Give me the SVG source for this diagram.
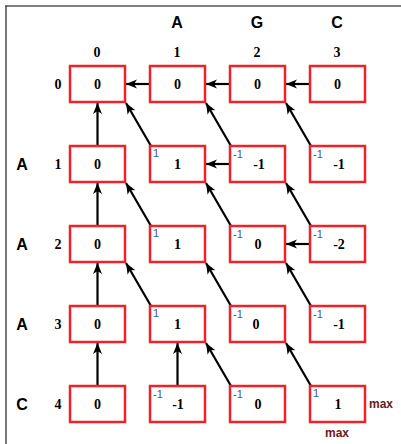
<svg xmlns="http://www.w3.org/2000/svg" width="401" height="444" viewBox="0 0 401 444">
<defs>
<marker id="ah" markerWidth="12" markerHeight="10" refX="11" refY="4.5" orient="auto" markerUnits="userSpaceOnUse">
<path d="M0,0 L11,4.5 L0,9 L3,4.5 z" fill="#000"/>
</marker>
<style>
.cell{fill:#fff;stroke:#ee2228;stroke-width:2.5}
.v{font-family:"Liberation Serif",serif;font-weight:bold;font-size:14px;text-anchor:middle;fill:#000}
.idx{font-family:"Liberation Serif",serif;font-weight:bold;font-size:14px;text-anchor:middle;fill:#000}
.let{font-family:"Liberation Sans",sans-serif;font-weight:bold;font-size:16px;text-anchor:middle;fill:#000}
.s{font-family:"Liberation Sans",sans-serif;font-size:11px;fill:#3a55b0}
.mx{font-family:"Liberation Sans",sans-serif;font-weight:bold;font-size:12px;fill:#6b1a1a}
.a{stroke:#000;stroke-width:2.2;fill:none;marker-end:url(#ah)}
</style>
</defs>
<rect width="401" height="444" fill="#fff"/>
<line x1="5" y1="6" x2="401" y2="6" stroke="#555" stroke-width="1.5"/>
<line x1="6" y1="6" x2="6" y2="444" stroke="#222" stroke-width="1.2"/>
<g id="headers">
<text class="let" x="177" y="28">A</text>
<text class="let" x="257" y="28">G</text>
<text class="let" x="337" y="28">C</text>
<text class="idx" x="97" y="57">0</text>
<text class="idx" x="177" y="57">1</text>
<text class="idx" x="257" y="57">2</text>
<text class="idx" x="337" y="57">3</text>
<text class="idx" x="58" y="89">0</text>
<text class="idx" x="58" y="169">1</text>
<text class="idx" x="58" y="249">2</text>
<text class="idx" x="58" y="329">3</text>
<text class="idx" x="58" y="409">4</text>
<text class="let" x="22" y="170">A</text>
<text class="let" x="22" y="250">A</text>
<text class="let" x="22" y="330">A</text>
<text class="let" x="22" y="410">C</text>
</g>
<g id="connectors">
<line class="a" x1="150" y1="84" x2="126" y2="84"/>
<line class="a" x1="230" y1="84" x2="206" y2="84"/>
<line class="a" x1="310" y1="84" x2="286" y2="84"/>
<line class="a" x1="97.5" y1="146" x2="97.5" y2="103"/>
<line class="a" x1="151" y1="146" x2="126" y2="103"/>
<line class="a" x1="230" y1="164" x2="206" y2="164"/>
<line class="a" x1="231" y1="146" x2="206" y2="103"/>
<line class="a" x1="311" y1="146" x2="286" y2="103"/>
<line class="a" x1="97.5" y1="226" x2="97.5" y2="183"/>
<line class="a" x1="151" y1="226" x2="126" y2="183"/>
<line class="a" x1="231" y1="226" x2="206" y2="183"/>
<line class="a" x1="310" y1="244" x2="286" y2="244"/>
<line class="a" x1="311" y1="226" x2="286" y2="183"/>
<line class="a" x1="97.5" y1="306" x2="97.5" y2="263"/>
<line class="a" x1="151" y1="306" x2="126" y2="263"/>
<line class="a" x1="231" y1="306" x2="206" y2="263"/>
<line class="a" x1="311" y1="306" x2="286" y2="263"/>
<line class="a" x1="97.5" y1="386" x2="97.5" y2="343"/>
<line class="a" x1="177.5" y1="386" x2="177.5" y2="343"/>
<line class="a" x1="231" y1="386" x2="206" y2="343"/>
<line class="a" x1="311" y1="386" x2="286" y2="343"/>
</g>
<g id="c00"><rect class="cell" x="70" y="66" width="55" height="36"/><text class="v" x="97.5" y="89">0</text></g>
<g id="c01"><rect class="cell" x="150" y="66" width="55" height="36"/><text class="v" x="177.5" y="89">0</text></g>
<g id="c02"><rect class="cell" x="230" y="66" width="55" height="36"/><text class="v" x="257.5" y="89">0</text></g>
<g id="c03"><rect class="cell" x="310" y="66" width="55" height="36"/><text class="v" x="337.5" y="89">0</text></g>
<g id="c10"><rect class="cell" x="70" y="146" width="55" height="36"/><text class="v" x="97.5" y="169">0</text></g>
<g id="c11"><rect class="cell" x="150" y="146" width="55" height="36"/><text class="s" x="153" y="157">1</text><text class="v" x="177.5" y="169">1</text></g>
<g id="c12"><rect class="cell" x="230" y="146" width="55" height="36"/><text class="s" x="233" y="158">-1</text><text class="v" x="259" y="169">-1</text></g>
<g id="c13"><rect class="cell" x="310" y="146" width="55" height="36"/><text class="s" x="313" y="158">-1</text><text class="v" x="339" y="169">-1</text></g>
<g id="c20"><rect class="cell" x="70" y="226" width="55" height="36"/><text class="v" x="97.5" y="249">0</text></g>
<g id="c21"><rect class="cell" x="150" y="226" width="55" height="36"/><text class="s" x="153" y="237">1</text><text class="v" x="177.5" y="249">1</text></g>
<g id="c22"><rect class="cell" x="230" y="226" width="55" height="36"/><text class="s" x="233" y="238">-1</text><text class="v" x="258" y="249">0</text></g>
<g id="c23"><rect class="cell" x="310" y="226" width="55" height="36"/><text class="s" x="313" y="238">-1</text><text class="v" x="339" y="249">-2</text></g>
<g id="c30"><rect class="cell" x="70" y="306" width="55" height="36"/><text class="v" x="97.5" y="329">0</text></g>
<g id="c31"><rect class="cell" x="150" y="306" width="55" height="36"/><text class="s" x="153" y="317">1</text><text class="v" x="177.5" y="329">1</text></g>
<g id="c32"><rect class="cell" x="230" y="306" width="55" height="36"/><text class="s" x="233" y="318">-1</text><text class="v" x="256" y="329">0</text></g>
<g id="c33"><rect class="cell" x="310" y="306" width="55" height="36"/><text class="s" x="313" y="318">-1</text><text class="v" x="339" y="329">-1</text></g>
<g id="c40"><rect class="cell" x="70" y="386" width="55" height="36"/><text class="v" x="97.5" y="409">0</text></g>
<g id="c41"><rect class="cell" x="150" y="386" width="55" height="36"/><text class="s" x="153" y="398">-1</text><text class="v" x="178" y="409">-1</text></g>
<g id="c42"><rect class="cell" x="230" y="386" width="55" height="36"/><text class="s" x="233" y="398">-1</text><text class="v" x="258" y="409">0</text></g>
<g id="c43"><rect class="cell" x="310" y="386" width="55" height="36"/><text class="s" x="313" y="397">1</text><text class="v" x="338" y="409">1</text></g>
<g id="max">
<text class="mx" x="369" y="408">max</text>
<text class="mx" x="325" y="437">max</text>
</g>
</svg>
